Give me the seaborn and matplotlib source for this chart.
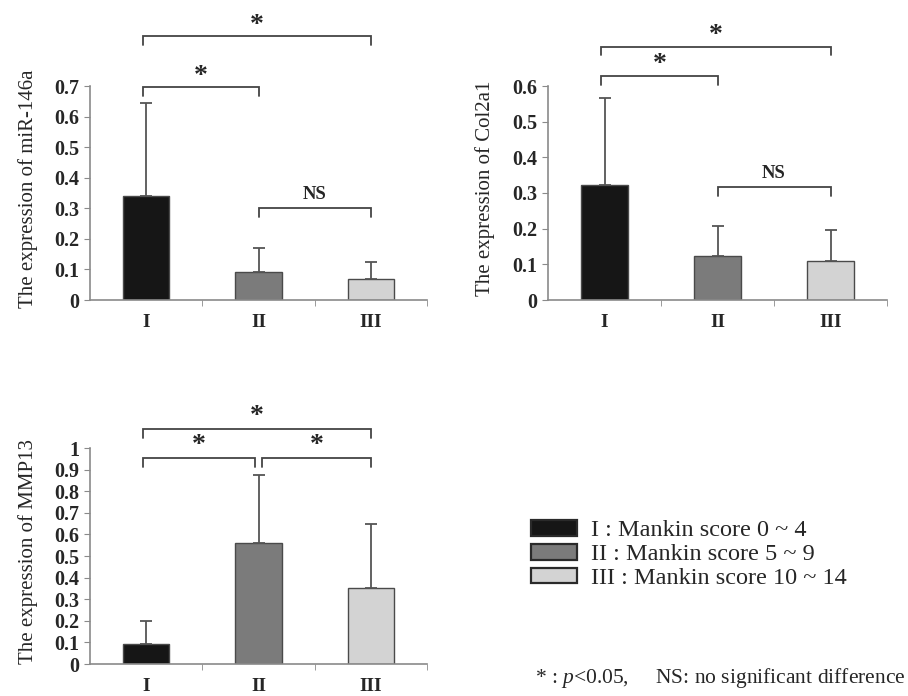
import numpy as np
import pandas as pd
import matplotlib
matplotlib.use('Agg')
import matplotlib.pyplot as plt
from matplotlib.patches import Patch
import seaborn as sns

# Data
# ----

groups = ['I', 'II', 'III']
legend_labels = ['I : Mankin score 0 ~ 4', 'II : Mankin score 5 ~ 9', 'III : Mankin score 10 ~ 14']

mir146a_mean = [0.340, 0.093, 0.070]
mir146a_sd = [0.305, 0.077, 0.055]

col2a1_mean = [0.322, 0.123, 0.109]
col2a1_sd = [0.244, 0.084, 0.087]

mmp13_mean = [0.093, 0.560, 0.352]
mmp13_sd = [0.107, 0.315, 0.296]

# significance pairs (group index a, group index b, label)
mir146a_sig = [(0, 1, '*'), (0, 2, '*'), (1, 2, 'NS')]
col2a1_sig = [(0, 1, '*'), (0, 2, '*'), (1, 2, 'NS')]
mmp13_sig = [(0, 1, '*'), (1, 2, '*'), (0, 2, '*')]

# Style
# -----

sns.set_style('ticks')
plt.rcParams['font.family'] = ['Liberation Serif', 'DejaVu Serif']
plt.rcParams['mathtext.fontset'] = 'custom'
plt.rcParams['mathtext.rm'] = 'Liberation Serif'
plt.rcParams['mathtext.it'] = 'Liberation Serif:italic'

colors = ['#161616', '#7b7b7b', '#d3d3d3']
axis_color = '#8a8a8a'


def draw_panel(ax, means, sds, ymax, ystep, ylabel, sig, levels, leg, star_off):
    df = pd.DataFrame({'group': groups, 'value': means})
    sns.barplot(data=df, x='group', y='value', hue='group', palette=colors,
                width=0.41, edgecolor='#4a4a4a', linewidth=1.0, legend=False, ax=ax)
    ax.errorbar(np.arange(len(groups)), means, yerr=[np.zeros(len(sds)), sds],
                fmt='none', ecolor='#555555', elinewidth=1.3, capsize=4, capthick=1.3)
    ax.set_xlim(-0.5, 2.5)
    ax.set_ylim(0, ymax)
    ticks = np.round(np.arange(0, ymax + 1e-9, ystep), 2)
    ax.set_yticks(ticks)
    ax.set_yticklabels(['0' if t == 0 else ('1' if t == 1 else f'{t:g}') for t in ticks],
                       fontsize=14.5, fontweight='bold')
    ax.set_xticks(range(len(groups)))
    ax.set_xticklabels(groups, fontsize=14, fontweight='bold')
    ax.set_xticks([0.5, 1.5, 2.5], minor=True)
    ax.tick_params(axis='x', which='major', length=0, pad=10)
    ax.tick_params(axis='x', which='minor', length=4, color=axis_color, direction='out')
    ax.tick_params(axis='y', length=4, color=axis_color, direction='out', pad=4)
    ax.set_xlabel('')
    ax.set_ylabel(ylabel, fontsize=15)
    ax.yaxis.set_label_coords(-0.155, 0.52)
    sns.despine(ax=ax)
    for s in ['left', 'bottom']:
        ax.spines[s].set_color(axis_color)
        ax.spines[s].set_linewidth(1.2)

    # significance brackets
    for (a, b, lab), y in zip(sig, levels):
        xa = a - 0.03 if a == 0 else a + (0.03 if lab == '*' and a == 1 else 0)
        xb = b
        if a == 0 and b == 1 and any(s[0] == 1 and s[1] == 2 and s[2] == '*' for s in sig):
            xb = b - 0.03
        ax.plot([xa, xa, xb, xb], [y - leg, y, y, y - leg], color='#444444', lw=1.3,
                clip_on=False, solid_joinstyle='miter')
        if lab == '*':
            ax.text((xa + xb) / 2, y + star_off, '*', ha='center', va='center',
                    fontsize=20, fontweight='bold', clip_on=False)
        else:
            ax.text((xa + xb) / 2, y + star_off * 0.5, lab, ha='center', va='bottom',
                    fontsize=13.5, fontweight='bold', clip_on=False)


fig = plt.figure(figsize=(9.08, 6.96), dpi=100)

ax1 = fig.add_axes([90 / 908, 396 / 696, 337 / 908, 214 / 696])
draw_panel(ax1, mir146a_mean, mir146a_sd, 0.7, 0.1, 'The expression of miR-146a',
           mir146a_sig, [0.696, 0.863, 0.300], 0.028, 0.035)

ax2 = fig.add_axes([548 / 908, 396 / 696, 339 / 908, 214 / 696])
draw_panel(ax2, col2a1_mean, col2a1_sd, 0.6, 0.1, 'The expression of Col2a1',
           col2a1_sig, [0.627, 0.710, 0.316], 0.024, 0.032)

ax3 = fig.add_axes([90 / 908, 32 / 696, 337 / 908, 216 / 696])
draw_panel(ax3, mmp13_mean, mmp13_sd, 1.0, 0.1, 'The expression of MMP13',
           mmp13_sig, [0.953, 0.953, 1.09], 0.042, 0.058)

handles = [Patch(facecolor=c, edgecolor='#2a2a2a', linewidth=1.6) for c in colors]
fig.legend(handles, legend_labels, loc='upper left', bbox_to_anchor=(531 / 908, 176 / 696),
           frameon=False, fontsize=17.5, handlelength=1.9, handleheight=0.62,
           handletextpad=0.55, labelspacing=0.1, borderpad=0, borderaxespad=0)

fig.text(535 / 908, 18 / 696, '* : $p$<0.05,     NS: no significant difference',
         fontsize=15.5, va='center', ha='left')

fig.savefig('out.png', dpi=100)
